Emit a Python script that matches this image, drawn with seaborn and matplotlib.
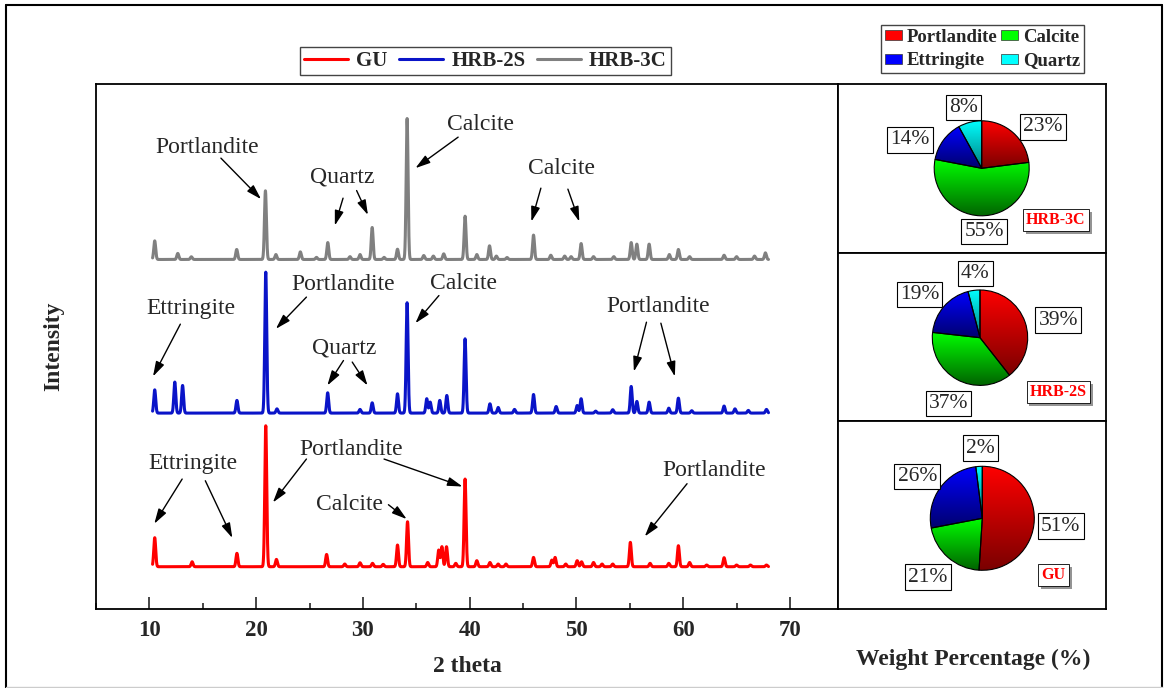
'''
XRD patterns of GU, HRB-2S and HRB-3C with the phase weight percentages as pies
'''
import numpy as np
import matplotlib
matplotlib.use('Agg')
import matplotlib.pyplot as plt
import matplotlib.patheffects as pe
from matplotlib.colors import LinearSegmentedColormap
from matplotlib.patches import Patch
from matplotlib.lines import Line2D
from matplotlib.ticker import MultipleLocator
import seaborn as sns

# peak positions (2 theta) and heights (% of strongest peak)
gu_pos = [10.5, 14.0, 18.2, 20.9, 21.9, 26.6, 28.3, 29.73, 30.9, 31.9, 33.24, 34.18, 36.07, 37.1, 37.4,
          37.83, 38.7, 39.57, 40.67, 41.9, 42.67, 43.4, 45.98, 47.7, 48.0, 49.0, 50.07, 50.48, 51.6,
          52.4, 53.4, 55.05, 56.9, 58.65, 59.55, 60.6, 62.2, 63.83, 65.0, 66.3, 67.8]
gu_int = [20.6, 3.5, 9.5, 100, 5.2, 8.7, 1.9, 2.8, 2.4, 1.7, 15.4, 31.9, 3.0, 11.8, 14.2,
          14.2, 2.4, 62.2, 4.3, 3.0, 1.9, 1.9, 6.6, 4.7, 6.6, 1.9, 4.3, 3.5, 3.0,
          1.9, 1.9, 17.3, 2.4, 2.4, 14.9, 3.0, 1.2, 6.4, 1.2, 1.2, 1.2]

hrb2s_pos = [10.5, 12.38, 13.11, 18.2, 20.9, 21.95, 26.7, 29.73, 30.87, 33.24, 34.14, 35.98, 36.3,
             37.2, 37.86, 39.57, 41.9, 42.67, 44.2, 45.98, 48.1, 50.07, 50.44, 51.8, 53.4, 55.13,
             55.66, 56.81, 58.65, 59.55, 60.8, 63.83, 64.85, 66.1, 67.8]
hrb2s_int = [16.5, 22.0, 19.6, 9.0, 100, 3.0, 14.4, 2.6, 7.3, 13.7, 78.3, 10.2, 7.8,
             9.0, 12.5, 52.7, 6.6, 4.0, 2.6, 13.2, 4.7, 5.4, 10.2, 1.4, 2.4, 18.9,
             8.3, 7.8, 3.5, 10.6, 1.7, 5.0, 3.0, 1.9, 2.6]

hrb3c_pos = [10.5, 12.66, 13.93, 18.18, 20.87, 21.85, 24.14, 25.65, 26.71, 28.79, 29.73, 30.87,
             31.98, 33.24, 34.14, 35.7, 36.6, 37.57, 39.57, 40.67, 41.86, 42.5, 43.5, 45.98, 47.6,
             48.9, 49.5, 50.44, 51.6, 53.5, 55.13, 55.66, 56.81, 58.7, 59.55, 60.6, 63.83, 65.0,
             66.68, 67.7]
hrb3c_int = [13.2, 4.3, 1.9, 7.1, 48.7, 3.5, 5.4, 1.5, 12.0, 2.0, 3.5, 22.7,
             1.5, 7.3, 100, 2.8, 2.4, 4.0, 30.7, 3.5, 9.7, 2.4, 1.4, 17.3, 3.0,
             2.4, 2.0, 11.3, 2.0, 2.0, 12.0, 10.9, 10.9, 3.5, 7.1, 2.0, 3.0, 2.0,
             2.4, 4.7]

samples = ['GU', 'HRB-2S', 'HRB-3C']
offsets = [0, 109, 218]
line_colors = ['#ff0000', '#0a14c8', '#808080']

# weight percentages (Portlandite, Calcite, Ettringite, Quartz)
phases = ['Portlandite', 'Calcite', 'Ettringite', 'Quartz']
wt_hrb3c = [23, 55, 14, 8]
wt_hrb2s = [39, 37, 19, 4]
wt_gu = [51, 21, 26, 2]
bright = ['#ff0000', '#00ff00', '#0000ff', '#00ffff']
dark = ['#7a0000', '#006400', '#00006e', '#008080']

W, H = 1164, 688


def profile(x, pos, inten, s=0.09):
    y = np.zeros_like(x)
    for p, h in zip(pos, inten):
        y += h * np.exp(-0.5 * ((x - p) / s) ** 2)
    return y


def arrow(ax, start, end):
    ax.annotate('', xy=end, xytext=start,
                arrowprops=dict(arrowstyle='-|>,head_length=0.6,head_width=0.18',
                                color='black', lw=1, mutation_scale=15, shrinkA=0, shrinkB=0))


def label(ax, txt, xy):
    ax.text(xy[0], xy[1], txt, ha='center', va='center', fontsize=17)


def gradient_pie(ax, values, pcts, pct_xy, name, name_xy):
    wedges, _ = ax.pie(values, colors=bright, startangle=90, counterclock=False,
                       wedgeprops=dict(edgecolor='black', linewidth=0.8))
    grad = np.linspace(0, 1, 256).reshape(-1, 1)
    for w, c0, c1 in zip(wedges, dark, bright):
        th = np.radians(np.linspace(w.theta1, w.theta2, 100))
        xs = np.r_[0, np.cos(th)]
        ys = np.r_[0, np.sin(th)]
        cmap = LinearSegmentedColormap.from_list('g', [c0, c1])
        im = ax.imshow(grad, extent=(xs.min(), xs.max(), ys.min(), ys.max()), origin='lower',
                       cmap=cmap, aspect='auto', zorder=0.5)
        im.set_clip_path(w)
        w.set_facecolor('none')
    for p, (x, y) in zip(pcts, pct_xy):
        ax.text(x, y, f'{p}%', ha='center', va='center', fontsize=15.5,
                bbox=dict(boxstyle='square,pad=0.15', fc='white', ec='black', lw=0.8))
    t = ax.text(name_xy[0], name_xy[1], name, ha='center', va='center', fontsize=11.5,
                fontweight='bold', color='#ff0000',
                bbox=dict(boxstyle='square,pad=0.2', fc='white', ec='black', lw=0.6))
    t.get_bbox_patch().set_path_effects([pe.SimplePatchShadow(offset=(2, -2), alpha=0.6),
                                         pe.Normal()])


def pie_axes(fig, top, bottom, cx, cy, r):
    # panel given in pixels, pie centre and radius in pixels
    left, right = 838, 1106
    ax = fig.add_axes([left / W, 1 - bottom / H, (right - left) / W, (bottom - top) / H])
    return ax, ((left - cx) / r, (right - cx) / r), (-(bottom - cy) / r, (cy - top) / r)


def main():
    sns.set_theme(style='white')
    plt.rcParams['font.family'] = ['Liberation Serif', 'DejaVu Sans']
    plt.rcParams['axes.linewidth'] = 1.3

    fig = plt.figure(figsize=(W / 100, H / 100), dpi=100)
    ax = fig.add_axes([96 / W, 1 - 609 / H, (838 - 96) / W, (609 - 84) / H])

    x = np.arange(10.3, 68.0, 0.01)
    data = [(gu_pos, gu_int), (hrb2s_pos, hrb2s_int), (hrb3c_pos, hrb3c_int)]
    for (pos, inten), off, col, name in zip(data, offsets, line_colors, samples):
        sns.lineplot(x=x, y=profile(x, pos, inten) + off, ax=ax, color=col, lw=2.2,
                     estimator=None, label=name, legend=False)

    ax.set_xlim(5, 74.5)
    ax.set_ylim(-30, 342.5)
    ax.set_yticks([])
    ax.xaxis.set_major_locator(MultipleLocator(10))
    ax.xaxis.set_minor_locator(MultipleLocator(5))
    ax.tick_params(axis='x', which='major', direction='in', length=8.5, width=1.2, pad=8,
                   bottom=True, labelsize=16.5)
    ax.tick_params(axis='x', which='minor', direction='in', length=4, width=1.2, bottom=True)
    for t in ax.get_xticklabels():
        t.set_fontweight('bold')
    for s in ax.spines.values():
        s.set_color('black')
    ax.set_xlabel('2 theta', fontsize=17, fontweight='bold', labelpad=11)
    ax.set_ylabel('Intensity', fontsize=17, fontweight='bold', labelpad=23)

    # HRB-3C
    label(ax, 'Portlandite', (15.39, 297.2))
    arrow(ax, (16.70, 289.9), (20.46, 260.8))
    label(ax, 'Quartz', (28.10, 276.8))
    arrow(ax, (28.14, 261.5), (27.37, 242.1))
    arrow(ax, (29.41, 266.9), (30.47, 249.6))
    label(ax, 'Calcite', (41.04, 313.5))
    arrow(ax, (38.92, 304.8), (34.92, 282.8))
    label(ax, 'Calcite', (48.64, 282.8))
    arrow(ax, (46.67, 268.6), (45.78, 244.9))
    arrow(ax, (49.20, 267.9), (50.27, 244.9))
    # HRB-2S
    label(ax, 'Ettringite', (13.93, 183.5))
    arrow(ax, (12.90, 172.1), (10.34, 135.0))
    label(ax, 'Portlandite', (28.18, 200.0))
    arrow(ax, (24.71, 191.3), (21.85, 168.8))
    label(ax, 'Quartz', (28.22, 155.5))
    arrow(ax, (28.18, 146.3), (26.67, 128.6))
    arrow(ax, (29.00, 145.2), (30.43, 128.6))
    label(ax, 'Calcite', (39.41, 201.2))
    arrow(ax, (37.12, 192.4), (34.92, 172.8))
    label(ax, 'Portlandite', (57.70, 184.6))
    arrow(ax, (56.56, 173.5), (55.38, 138.5))
    arrow(ax, (57.91, 172.8), (59.22, 135.0))
    # GU
    label(ax, 'Ettringite', (14.09, 73.5))
    arrow(ax, (13.07, 62.2), (10.46, 30.5))
    arrow(ax, (15.24, 61.0), (17.77, 20.4))
    label(ax, 'Portlandite', (28.91, 83.5))
    arrow(ax, (24.71, 76.4), (21.57, 45.6))
    arrow(ax, (31.98, 76.4), (39.33, 56.9))
    label(ax, 'Calcite', (28.79, 44.0))
    arrow(ax, (32.39, 44.0), (34.10, 33.8))
    label(ax, 'Portlandite', (62.93, 68.3))
    arrow(ax, (60.36, 58.9), (56.40, 21.5))

    handles = [Line2D([], [], color=c, lw=2.2) for c in line_colors]
    leg = fig.legend(handles, samples, loc='center', bbox_to_anchor=(485.5 / W, 1 - 61 / H),
                     ncol=3, frameon=True, fancybox=False, edgecolor='#444444', framealpha=1,
                     handlelength=2.1, handletextpad=0.4, columnspacing=0.55, borderpad=0.2,
                     borderaxespad=0, prop=dict(size=15, weight='bold'))
    leg.get_frame().set_linewidth(1)

    # pies
    panels = [
        (84, 253, 981.7, 168.3, 47.5, wt_hrb3c, 'HRB-3C',
         [(1.29, 0.87), (0.05, -1.33), (-1.51, 0.60), (-0.39, 1.28)], (1.56, -1.09)),
        (253, 421, 980.0, 337.7, 47.7, wt_hrb2s, 'HRB-2S',
         [(1.64, 0.37), (-0.66, -1.38), (-1.27, 0.91), (-0.10, 1.35)], (1.64, -1.14)),
        (421, 609, 982.3, 518.3, 52.0, wt_gu, 'GU',
         [(1.51, -0.15), (-1.05, -1.13), (-1.25, 0.80), (-0.03, 1.35)], (1.37, -1.09)),
    ]
    for top, bot, cx, cy, r, vals, name, pxy, nxy in panels:
        pax, xl, yl = pie_axes(fig, top, bot, cx, cy, r)
        gradient_pie(pax, vals, vals, pxy, name, nxy)
        pax.set_aspect('auto')
        pax.set_xlim(*xl)
        pax.set_ylim(*yl)
        pax.set_frame_on(True)
        pax.set_xticks([])
        pax.set_yticks([])
        for s in pax.spines.values():
            s.set_color('black')
            s.set_linewidth(1.3)

    ph = [Patch(facecolor=b, edgecolor='#333333', lw=0.5) for b in bright]
    order = [0, 2, 1, 3]
    leg2 = fig.legend([ph[i] for i in order], [phases[i] for i in order], loc='center',
                      bbox_to_anchor=(982.5 / W, 1 - 49 / H), ncol=2, frameon=True, fancybox=False,
                      edgecolor='#444444', framealpha=1, handlelength=0.9, handleheight=0.45,
                      handletextpad=0.25, columnspacing=0.2, labelspacing=0.35, borderpad=0.2,
                      borderaxespad=0, prop=dict(size=13.5, weight='bold'))
    leg2.get_frame().set_linewidth(1)

    fig.text(973 / W, 1 - 659 / H, 'Weight Percentage (%)', ha='center', va='center',
             fontsize=17, fontweight='bold')

    # outer frame
    fig.add_artist(Line2D([6 / W, 6 / W], [0, 1 - 5 / H], color='black', lw=1.5))
    fig.add_artist(Line2D([6 / W, 1162 / W], [1 - 5 / H, 1 - 5 / H], color='black', lw=1.5))
    fig.add_artist(Line2D([1162 / W, 1162 / W], [0, 1 - 5 / H], color='black', lw=1.5))
    fig.add_artist(Line2D([6 / W, 1162 / W], [1.5 / H, 1.5 / H], color='#cccccc', lw=1))

    fig.savefig('out.png', dpi=100)


if __name__ == "__main__":
    main()
